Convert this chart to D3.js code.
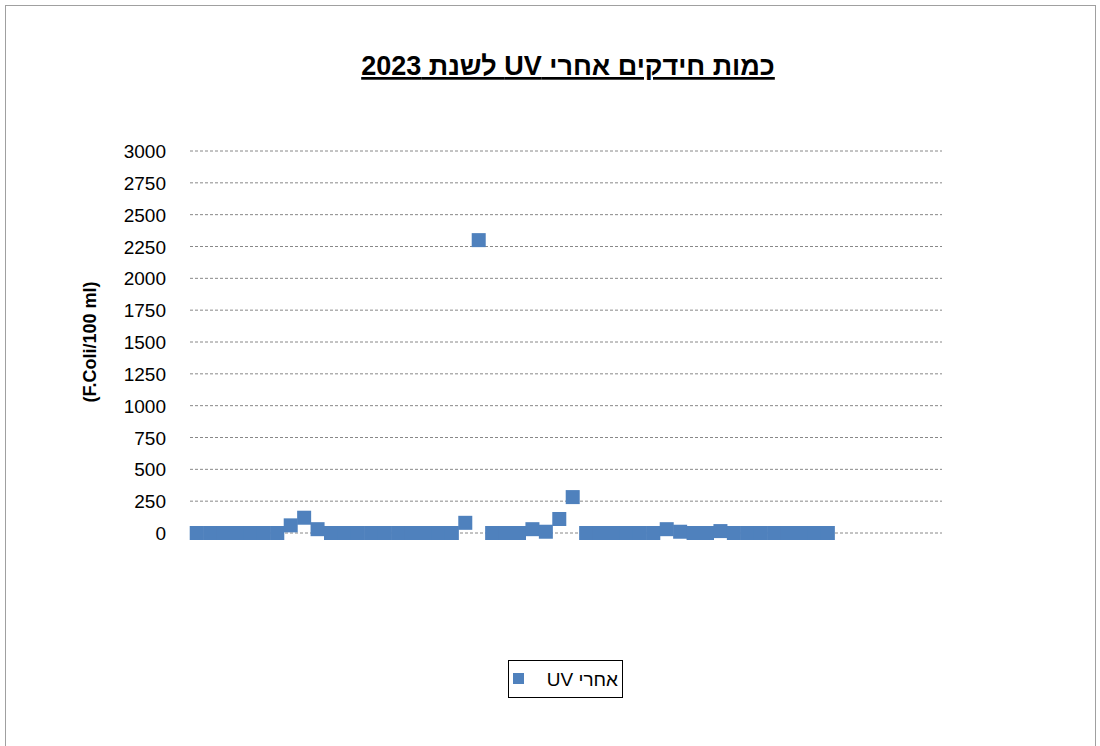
<!DOCTYPE html><html><head><meta charset="utf-8"><script src="https://cdn.jsdelivr.net/npm/d3@7"></script>
<style>body{margin:0;background:#fff}</style></head><body><svg id="c" width="1100" height="746"></svg>
<script>
const slots = d3.range(56);
const values = [0,0,0,0,0,0,0,60,120,30,0,0,0,0,0,0,0,0,0,0,80,2300,0,0,0,30,10,110,282,0,0,0,0,0,0,30,10,0,0,15,0,0,0,0,0,0,0,0];
const yTicks = [0,250,500,750,1000,1250,1500,1750,2000,2250,2500,2750,3000];
const svg = d3.select("#c");
svg.append("rect").attr("x",5.5).attr("y",5.5).attr("width",1090).attr("height",760).attr("fill","#fff").attr("stroke","#a0a0a0");
const x = d3.scaleBand().domain(slots).range([190,942]);
const y = d3.scaleLinear().domain([0,3000]).range([533,151]);
svg.append("g").selectAll("line").data(yTicks).join("line")
 .attr("x1",190).attr("x2",942).attr("y1",d=>y(d)).attr("y2",d=>y(d))
 .attr("stroke","#888").attr("stroke-dasharray","3,2");
svg.append("g").selectAll("text").data(yTicks).join("text")
 .attr("x",166).attr("y",d=>y(d)+7).attr("text-anchor","end")
 .attr("font-family","Liberation Sans, Arial").attr("font-size",19).text(d=>d);
svg.append("g").selectAll("rect").data(values).join("rect")
 .attr("x",(d,i)=>x(i)+x.bandwidth()/2-7).attr("y",d=>y(d)-7).attr("width",14).attr("height",14).attr("fill","#4f81bd");
svg.append("text").attr("transform","translate(96,342) rotate(-90)").attr("text-anchor","middle")
 .attr("font-family","Liberation Sans, Arial").attr("font-weight","bold").attr("font-size",18).text("(F.Coli/100 ml)");
svg.append("text").attr("x",568).attr("y",75).attr("text-anchor","middle").attr("direction","rtl")
 .attr("font-family","Liberation Sans, Arial").attr("font-weight","bold").attr("font-size",27)
 .attr("text-decoration","underline").text("כמות חידקים אחרי UV  לשנת 2023");
svg.append("rect").attr("x",508.5).attr("y",660.5).attr("width",114).attr("height",37).attr("fill","none").attr("stroke","#000");
svg.append("rect").attr("x",513).attr("y",673).attr("width",11).attr("height",11).attr("fill","#4f81bd");
svg.append("text").attr("x",618).attr("y",686).attr("text-anchor","start").attr("direction","rtl")
 .attr("font-family","Liberation Sans, Arial").attr("font-size",19).text("אחרי UV");
</script></body></html>
